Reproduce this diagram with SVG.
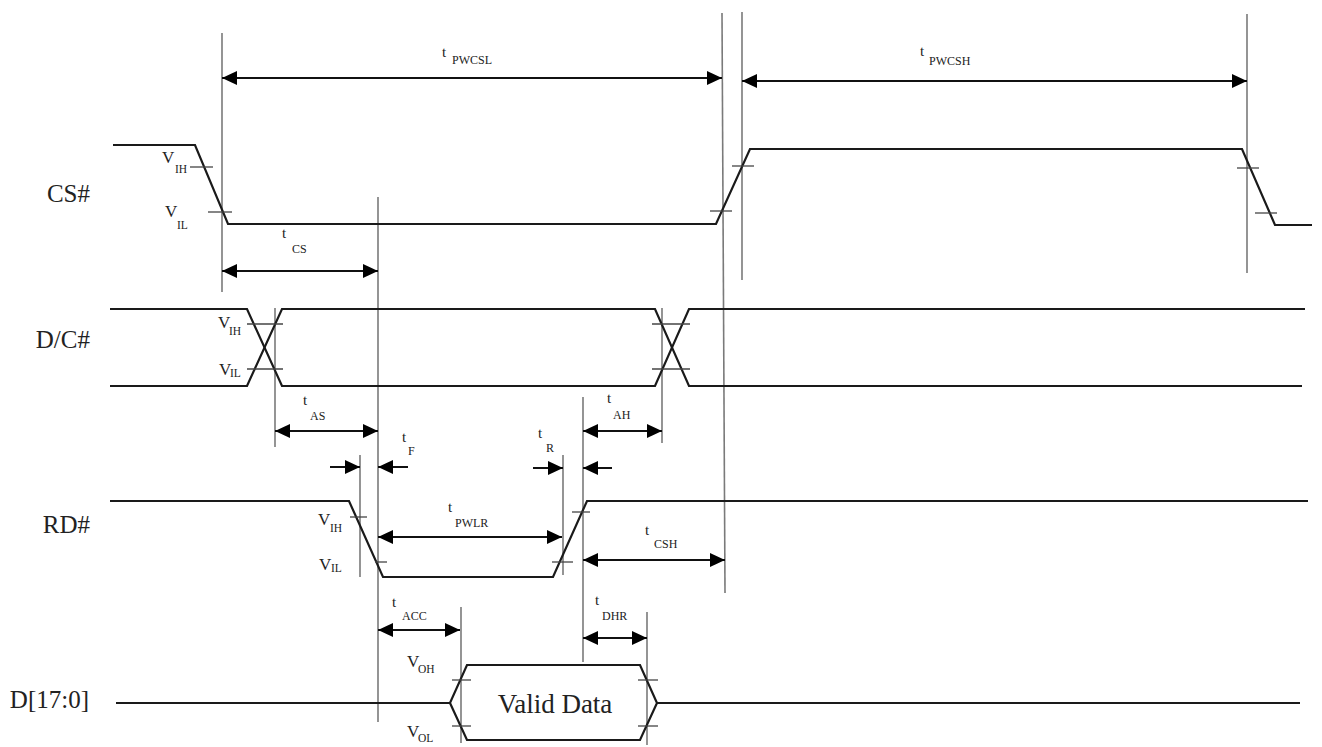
<svg xmlns="http://www.w3.org/2000/svg" width="1322" height="747" viewBox="0 0 1322 747">
<style>
.sig{fill:none;stroke:#1a1a1a;stroke-width:2.2;stroke-linejoin:miter}
.tick{stroke:#444;stroke-width:1.3}
.guide{stroke:#7a7a7a;stroke-width:1.6}
.dim{stroke:#111;stroke-width:2;fill:none}
.name{font-family:"Liberation Serif",serif;font-size:25px;fill:#222}
.t{font-family:"Liberation Serif",serif;font-size:15px;fill:#222}
.sub{font-family:"Liberation Serif",serif;font-size:12px;fill:#222}
.v{font-family:"Liberation Serif",serif;font-size:17px;fill:#222}
.vs{font-family:"Liberation Serif",serif;font-size:11.5px;fill:#222}
.data{font-family:"Liberation Serif",serif;font-size:27px;fill:#222}
</style>
<defs>
<marker id="ah" viewBox="0 0 15 14" refX="15" refY="7" markerWidth="15" markerHeight="14" markerUnits="userSpaceOnUse" orient="auto-start-reverse">
<path d="M0,0 L15,7 L0,14 z" fill="#000"/>
</marker>
</defs>

<g id="labels">
<text class="name" x="90" y="202" text-anchor="end">CS#</text>
<text class="name" x="90" y="348" text-anchor="end">D/C#</text>
<text class="name" x="90" y="533" text-anchor="end">RD#</text>
<text class="name" x="89" y="708" text-anchor="end">D[17:0]</text>
</g>

<g id="guides">
<line class="guide" x1="222" y1="33" x2="222" y2="292"/>
<line class="guide" x1="378" y1="197" x2="378" y2="722"/>
<line class="guide" x1="722" y1="13" x2="725" y2="593"/>
<line class="guide" x1="742" y1="12" x2="742" y2="280"/>
<line class="guide" x1="1247" y1="14" x2="1247" y2="273"/>
<line class="guide" x1="275" y1="308" x2="275" y2="447"/>
<line class="guide" x1="662" y1="308" x2="662" y2="443"/>
<line class="guide" x1="360" y1="455" x2="360" y2="577"/>
<line class="guide" x1="583" y1="397" x2="583" y2="662"/>
<line class="guide" x1="563" y1="455" x2="563" y2="575"/>
<line class="guide" x1="461" y1="607" x2="461" y2="743"/>
<line class="guide" x1="647" y1="612" x2="647" y2="745"/>
</g>

<g id="cs">
<path class="sig" d="M113,145 L195,145 L228,224 L716,224 L750,149 L1242,149 L1275,225 L1312,225"/>
<line class="tick" x1="190" y1="167" x2="213" y2="167"/>
<line class="tick" x1="208" y1="212" x2="232" y2="212"/>
<line class="tick" x1="710" y1="211" x2="732" y2="211"/>
<line class="tick" x1="732" y1="166" x2="754" y2="166"/>
<line class="tick" x1="1237" y1="168" x2="1259" y2="168"/>
<line class="tick" x1="1255" y1="213" x2="1277" y2="213"/>
<text class="v" x="162" y="163">V</text><text class="vs" x="175" y="173">IH</text>
<text class="v" x="165" y="217">V</text><text class="vs" x="177" y="229">IL</text>
</g>

<g id="dc">
<path class="sig" d="M110,309 L247,309 L282,386 L655,386 L689,309 L1305,309"/>
<path class="sig" d="M110,386 L247,386 L282,309 L655,309 L689,386 L1302,386"/>
<line class="tick" x1="247" y1="324" x2="283" y2="324"/>
<line class="tick" x1="247" y1="369" x2="283" y2="369"/>
<line class="tick" x1="652" y1="324" x2="690" y2="324"/>
<line class="tick" x1="652" y1="369" x2="690" y2="369"/>
<text class="v" x="218" y="328">V</text><text class="vs" x="229" y="335">IH</text>
<text class="v" x="219" y="375">V</text><text class="vs" x="230" y="377">IL</text>
</g>

<g id="rd">
<path class="sig" d="M110,501 L349,501 L383,577 L553,577 L587,501 L1308,501"/>
<line class="tick" x1="350" y1="517" x2="367" y2="517"/>
<line class="tick" x1="375" y1="562" x2="387" y2="562"/>
<line class="tick" x1="572" y1="512" x2="590" y2="512"/>
<line class="tick" x1="552" y1="562" x2="573" y2="562"/>
<text class="v" x="318" y="525">V</text><text class="vs" x="330" y="532">IH</text>
<text class="v" x="319" y="570">V</text><text class="vs" x="331" y="572">IL</text>
</g>

<g id="data">
<path class="sig" d="M116,703 L450,703 L467,665 L640,665 L657,703 L640,740 L467,740 L450,703"/>
<path class="sig" d="M657,703 L1300,703"/>
<line class="tick" x1="452" y1="680" x2="471" y2="680"/>
<line class="tick" x1="452" y1="726" x2="471" y2="726"/>
<line class="tick" x1="638" y1="680" x2="658" y2="680"/>
<line class="tick" x1="638" y1="726" x2="658" y2="726"/>
<text class="data" x="555" y="713" text-anchor="middle">Valid Data</text>
<text class="v" x="407" y="667">V</text><text class="vs" x="418" y="673">OH</text>
<text class="v" x="407" y="737">V</text><text class="vs" x="418" y="742">OL</text>
</g>

<g id="connectors">
<line class="dim" x1="222" y1="78" x2="722" y2="78" marker-start="url(#ah)" marker-end="url(#ah)"/>
<line class="dim" x1="742" y1="81" x2="1247" y2="81" marker-start="url(#ah)" marker-end="url(#ah)"/>
<line class="dim" x1="222" y1="271" x2="378" y2="271" marker-start="url(#ah)" marker-end="url(#ah)"/>
<line class="dim" x1="275" y1="431" x2="378" y2="431" marker-start="url(#ah)" marker-end="url(#ah)"/>
<line class="dim" x1="583" y1="431" x2="662" y2="431" marker-start="url(#ah)" marker-end="url(#ah)"/>
<line class="dim" x1="330" y1="467" x2="360" y2="467" marker-end="url(#ah)"/>
<line class="dim" x1="408" y1="467" x2="378" y2="467" marker-end="url(#ah)"/>
<line class="dim" x1="533" y1="468" x2="563" y2="468" marker-end="url(#ah)"/>
<line class="dim" x1="612" y1="468" x2="583" y2="468" marker-end="url(#ah)"/>
<line class="dim" x1="378" y1="537" x2="562" y2="537" marker-start="url(#ah)" marker-end="url(#ah)"/>
<line class="dim" x1="583" y1="560" x2="725" y2="560" marker-start="url(#ah)" marker-end="url(#ah)"/>
<line class="dim" x1="378" y1="630" x2="460" y2="630" marker-start="url(#ah)" marker-end="url(#ah)"/>
<line class="dim" x1="583" y1="638" x2="647" y2="638" marker-start="url(#ah)" marker-end="url(#ah)"/>
</g>

<g id="timing-labels">
<text class="t" x="442" y="57">t</text><text class="sub" x="452" y="64">PWCSL</text>
<text class="t" x="920" y="56">t</text><text class="sub" x="929" y="65">PWCSH</text>
<text class="t" x="282" y="238">t</text><text class="sub" x="292" y="253">CS</text>
<text class="t" x="303" y="405">t</text><text class="sub" x="310" y="420">AS</text>
<text class="t" x="402" y="442">t</text><text class="sub" x="408" y="455">F</text>
<text class="t" x="607" y="403">t</text><text class="sub" x="613" y="419">AH</text>
<text class="t" x="538" y="438">t</text><text class="sub" x="546" y="452">R</text>
<text class="t" x="448" y="512">t</text><text class="sub" x="455" y="527">PWLR</text>
<text class="t" x="645" y="535">t</text><text class="sub" x="654" y="548">CSH</text>
<text class="t" x="392" y="607">t</text><text class="sub" x="402" y="620">ACC</text>
<text class="t" x="595" y="605">t</text><text class="sub" x="602" y="620">DHR</text>
</g>
</svg>
